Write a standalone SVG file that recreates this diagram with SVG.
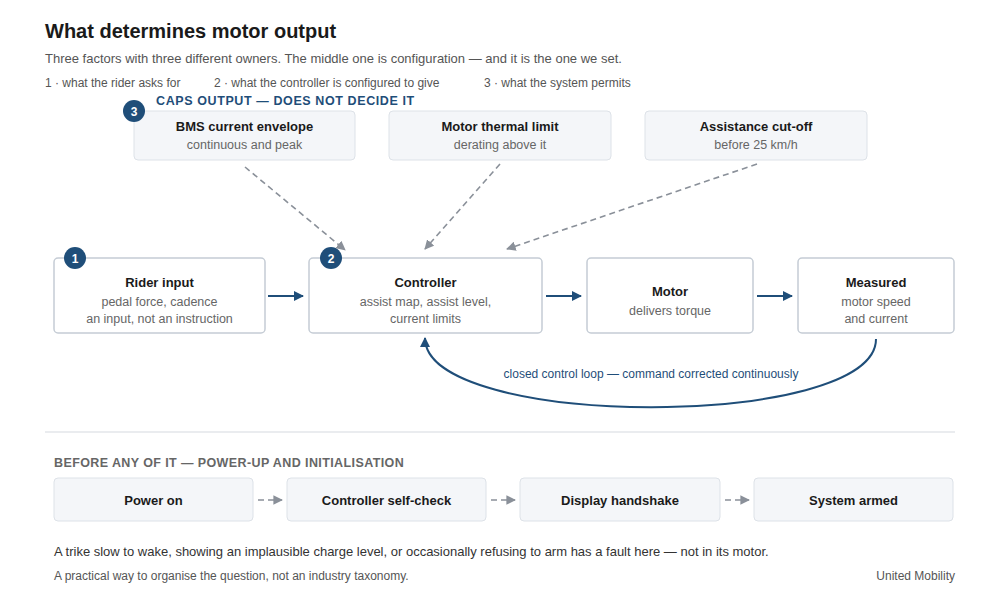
<svg xmlns="http://www.w3.org/2000/svg" width="1000" height="602" viewBox="0 0 1000 602">
<defs>
<style>
text{font-family:"Liberation Sans",Arial,sans-serif}
.t{font-size:13px;font-weight:bold;fill:#1a1a1a;text-anchor:middle}
.s{font-size:12.5px;fill:#666;text-anchor:middle}
.lim{fill:#f4f6f9;stroke:#dde2e8;stroke-width:1}
.main{fill:#fff;stroke:#c5ccd5;stroke-width:1.5}
.badge{fill:#1f4e79}
.bt{font-size:12px;font-weight:bold;fill:#fff;text-anchor:middle}
.dash{stroke:#8a9099;stroke-width:1.6;stroke-dasharray:6 4;fill:none}
.solid{stroke:#1f4e79;stroke-width:2;fill:none}
</style>
<marker id="ab" viewBox="0 0 10 10" refX="9" refY="5" markerWidth="5" markerHeight="5" orient="auto"><path d="M0,0L10,5L0,10z" fill="#1f4e79"/></marker>
<marker id="ag" viewBox="0 0 10 10" refX="9" refY="5" markerWidth="6" markerHeight="6" orient="auto"><path d="M0,0L10,5L0,10z" fill="#8a9099"/></marker>
</defs>
<rect width="1000" height="602" fill="#fff"/>
<text x="45" y="38" font-size="20" font-weight="bold" fill="#1a1a1a">What determines motor output</text>
<text x="45" y="63" font-size="13" fill="#555">Three factors with three different owners. The middle one is configuration — and it is the one we set.</text>
<text x="45" y="87" font-size="12" fill="#555">1 · what the rider asks for</text>
<text x="214" y="87" font-size="12" fill="#555">2 · what the controller is configured to give</text>
<text x="484" y="87" font-size="12" fill="#555">3 · what the system permits</text>
<text x="156" y="105" font-size="12.5" font-weight="bold" fill="#1f4e79" letter-spacing="0.6">CAPS OUTPUT — DOES NOT DECIDE IT</text>

<g id="bms"><rect class="lim" x="134" y="111" width="221" height="49" rx="4"/><text class="t" x="244.5" y="131">BMS current envelope</text><text class="s" x="244.5" y="149">continuous and peak</text><circle class="badge" cx="134" cy="111" r="11"/><text class="bt" x="134" y="115.5">3</text></g>
<g id="thermal"><rect class="lim" x="389" y="111" width="222" height="49" rx="4"/><text class="t" x="500" y="131">Motor thermal limit</text><text class="s" x="500" y="149">derating above it</text></g>
<g id="cutoff"><rect class="lim" x="645" y="111" width="222" height="49" rx="4"/><text class="t" x="756" y="131">Assistance cut-off</text><text class="s" x="756" y="149">before 25 km/h</text></g>

<g id="rider"><rect class="main" x="54" y="258" width="211" height="75" rx="4"/><text class="t" x="159.5" y="287" font-size="14">Rider input</text><text class="s" x="159.5" y="306">pedal force, cadence</text><text class="s" x="159.5" y="323">an input, not an instruction</text><circle class="badge" cx="75" cy="258" r="11"/><text class="bt" x="75" y="262.5">1</text></g>
<g id="controller"><rect class="main" x="309" y="258" width="233" height="75" rx="4"/><text class="t" x="425.5" y="287" font-size="14">Controller</text><text class="s" x="425.5" y="306">assist map, assist level,</text><text class="s" x="425.5" y="323">current limits</text><circle class="badge" cx="331" cy="258" r="11"/><text class="bt" x="331" y="262.5">2</text></g>
<g id="motor"><rect class="main" x="587" y="258" width="166" height="75" rx="4"/><text class="t" x="670" y="296" font-size="14">Motor</text><text class="s" x="670" y="315">delivers torque</text></g>
<g id="measured"><rect class="main" x="798" y="258" width="156" height="75" rx="4"/><text class="t" x="876" y="287" font-size="14">Measured</text><text class="s" x="876" y="306">motor speed</text><text class="s" x="876" y="323">and current</text></g>

<g id="connectors">
<line class="dash" x1="245" y1="167" x2="345" y2="250" marker-end="url(#ag)"/>
<line class="dash" x1="500" y1="164" x2="425" y2="249" marker-end="url(#ag)"/>
<line class="dash" x1="757" y1="164" x2="507" y2="249" marker-end="url(#ag)"/>
<line class="solid" x1="268" y1="296" x2="303" y2="296" marker-end="url(#ab)"/>
<line class="solid" x1="546" y1="296" x2="581" y2="296" marker-end="url(#ab)"/>
<line class="solid" x1="757" y1="296" x2="792" y2="296" marker-end="url(#ab)"/>
<path class="solid" d="M876,339 C876,430 425,430 425,338" marker-end="url(#ab)"/>
<line class="dash" x1="258" y1="500" x2="282" y2="500" marker-end="url(#ag)" stroke-dasharray="5 4"/>
<line class="dash" x1="491" y1="500" x2="515" y2="500" marker-end="url(#ag)" stroke-dasharray="5 4"/>
<line class="dash" x1="725" y1="500" x2="749" y2="500" marker-end="url(#ag)" stroke-dasharray="5 4"/>
</g>
<text x="651" y="378" font-size="12" fill="#1f4e79" text-anchor="middle">closed control loop — command corrected continuously</text>

<line x1="45" y1="432" x2="955" y2="432" stroke="#e3e6ea" stroke-width="1.5"/>
<text x="54" y="467" font-size="12.5" font-weight="bold" fill="#666" letter-spacing="0.4">BEFORE ANY OF IT — POWER-UP AND INITIALISATION</text>
<g id="power"><rect class="lim" x="54" y="478" width="199" height="43" rx="4"/><text class="t" x="153.5" y="505">Power on</text></g>
<g id="selfcheck"><rect class="lim" x="287" y="478" width="199" height="43" rx="4"/><text class="t" x="386.5" y="505">Controller self-check</text></g>
<g id="handshake"><rect class="lim" x="520" y="478" width="200" height="43" rx="4"/><text class="t" x="620" y="505">Display handshake</text></g>
<g id="armed"><rect class="lim" x="754" y="478" width="199" height="43" rx="4"/><text class="t" x="853.5" y="505">System armed</text></g>

<text x="54" y="556" font-size="13" fill="#333">A trike slow to wake, showing an implausible charge level, or occasionally refusing to arm has a fault here — not in its motor.</text>
<text x="54" y="580" font-size="12" fill="#555">A practical way to organise the question, not an industry taxonomy.</text>
<text x="955" y="580" font-size="12" fill="#555" text-anchor="end">United Mobility</text>
</svg>
